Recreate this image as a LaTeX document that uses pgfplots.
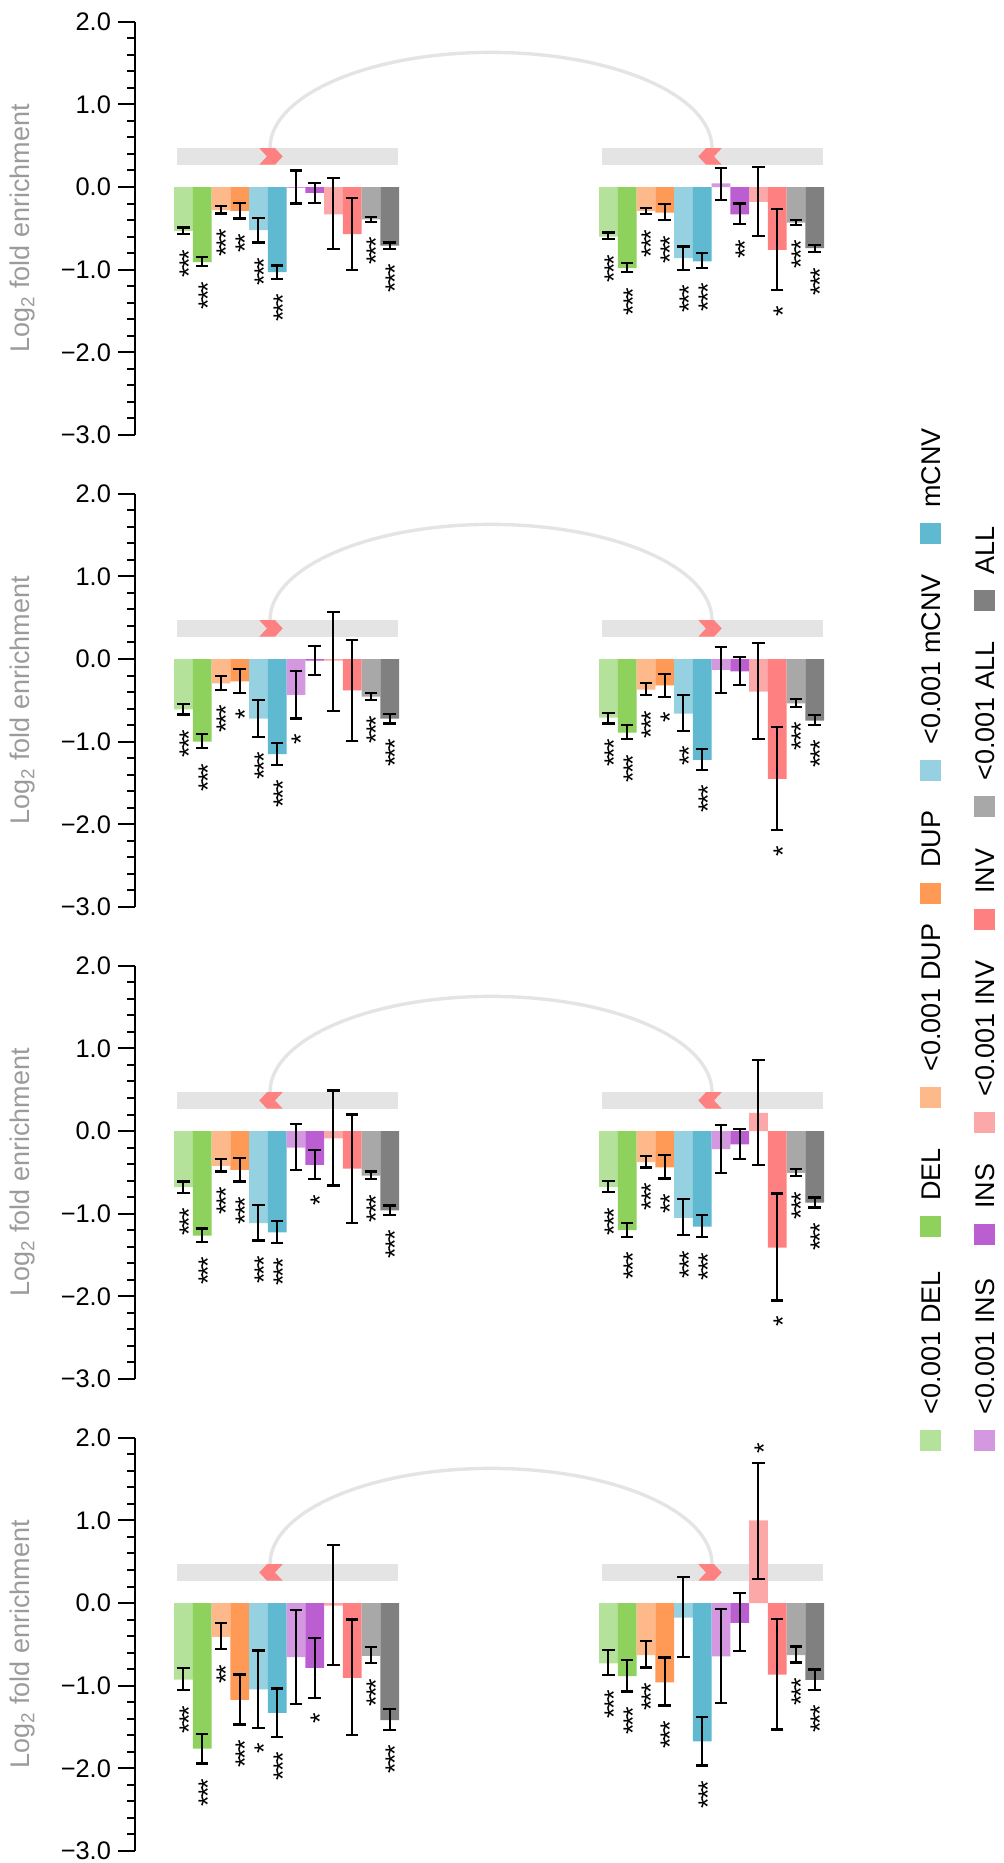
\documentclass[border=0pt]{standalone}
\usepackage{fontspec}
\setmainfont{Liberation Sans}
\newfontfamily\legfont{Liberation Sans}
\newfontfamily\starfam[LetterSpace=-7]{Liberation Sans}
\usepackage{pgfplots}
\usepackage{pgfplotstable}
\pgfplotsset{compat=1.18}

\definecolor{c0}{HTML}{B4E29A}
\definecolor{c1}{HTML}{8ED15C}
\definecolor{c2}{HTML}{FDB98A}
\definecolor{c3}{HTML}{FE9A55}
\definecolor{c4}{HTML}{96D1E1}
\definecolor{c5}{HTML}{5FB9D1}
\definecolor{c6}{HTML}{D498E0}
\definecolor{c7}{HTML}{BB5ED1}
\definecolor{c8}{HTML}{FDA8A8}
\definecolor{c9}{HTML}{FE8080}
\definecolor{c10}{HTML}{A8A8A8}
\definecolor{c11}{HTML}{808080}
\definecolor{bandc}{HTML}{E4E4E4}
\definecolor{arrowc}{HTML}{FE8080}
\definecolor{labc}{HTML}{9B9B9B}

% g: group (0 left, 1 right), c: series, y: bar, lo/hi: interval, s: stars
\pgfplotstableread{
g c y lo hi s
0 0 -0.53 -0.57 -0.49 ***
0 1 -0.91 -0.96 -0.85 ***
0 2 -0.28 -0.32 -0.23 ***
0 3 -0.29 -0.38 -0.19 **
0 4 -0.52 -0.67 -0.37 ***
0 5 -1.03 -1.11 -0.95 ***
0 6 -0.01 -0.20 0.20 {}
0 7 -0.07 -0.19 0.05 {}
0 8 -0.33 -0.75 0.11 {}
0 9 -0.57 -1.00 -0.13 {}
0 10 -0.39 -0.42 -0.36 ***
0 11 -0.71 -0.75 -0.67 ***
1 0 -0.60 -0.63 -0.55 ***
1 1 -0.98 -1.03 -0.92 ***
1 2 -0.29 -0.33 -0.25 ***
1 3 -0.31 -0.40 -0.21 ***
1 4 -0.86 -1.00 -0.72 ***
1 5 -0.90 -0.98 -0.80 ***
1 6 0.045 -0.16 0.23 {}
1 7 -0.33 -0.45 -0.20 **
1 8 -0.18 -0.59 0.24 {}
1 9 -0.76 -1.25 -0.27 *
1 10 -0.43 -0.46 -0.40 ***
1 11 -0.74 -0.79 -0.70 ***
}\tabA

\pgfplotstableread{
g c y lo hi s
0 0 -0.61 -0.67 -0.545 ***
0 1 -1.00 -1.08 -0.91 ***
0 2 -0.295 -0.37 -0.21 ***
0 3 -0.27 -0.415 -0.125 *
0 4 -0.72 -0.94 -0.50 ***
0 5 -1.15 -1.28 -1.02 ***
0 6 -0.435 -0.72 -0.14 *
0 7 -0.02 -0.19 0.16 {}
0 8 -0.02 -0.625 0.565 {}
0 9 -0.38 -0.99 0.23 {}
0 10 -0.455 -0.50 -0.41 ***
0 11 -0.72 -0.78 -0.665 ***
1 0 -0.71 -0.78 -0.65 ***
1 1 -0.89 -0.97 -0.80 ***
1 2 -0.37 -0.44 -0.29 ***
1 3 -0.32 -0.455 -0.18 *
1 4 -0.66 -0.87 -0.44 **
1 5 -1.22 -1.34 -1.09 ***
1 6 -0.13 -0.41 0.15 {}
1 7 -0.15 -0.31 0.025 {}
1 8 -0.395 -0.97 0.19 {}
1 9 -1.45 -2.07 -0.82 *
1 10 -0.535 -0.58 -0.48 ***
1 11 -0.745 -0.795 -0.68 ***
}\tabB

\pgfplotstableread{
g c y lo hi s
0 0 -0.68 -0.745 -0.61 ***
0 1 -1.265 -1.34 -1.18 ***
0 2 -0.42 -0.49 -0.34 ***
0 3 -0.47 -0.61 -0.33 ***
0 4 -1.115 -1.325 -0.89 ***
0 5 -1.225 -1.35 -1.09 ***
0 6 -0.20 -0.47 0.085 {}
0 7 -0.41 -0.585 -0.23 *
0 8 -0.09 -0.66 0.49 {}
0 9 -0.455 -1.11 0.20 {}
0 10 -0.54 -0.585 -0.49 ***
0 11 -0.96 -1.015 -0.90 ***
1 0 -0.675 -0.74 -0.60 ***
1 1 -1.20 -1.28 -1.11 ***
1 2 -0.375 -0.44 -0.30 ***
1 3 -0.44 -0.575 -0.29 **
1 4 -1.05 -1.26 -0.82 ***
1 5 -1.155 -1.285 -1.02 ***
1 6 -0.22 -0.51 0.07 {}
1 7 -0.16 -0.335 0.025 {}
1 8 0.22 -0.415 0.86 {}
1 9 -1.41 -2.05 -0.755 *
1 10 -0.505 -0.545 -0.455 ***
1 11 -0.865 -0.925 -0.805 ***
}\tabC

\pgfplotstableread{
g c y lo hi s
0 0 -0.925 -1.055 -0.785 ***
0 1 -1.76 -1.94 -1.58 ***
0 2 -0.41 -0.56 -0.245 **
0 3 -1.17 -1.47 -0.865 ***
0 4 -1.045 -1.51 -0.575 *
0 5 -1.33 -1.62 -1.035 ***
0 6 -0.655 -1.22 -0.08 {}
0 7 -0.785 -1.145 -0.42 *
0 8 -0.03 -0.75 0.70 {}
0 9 -0.905 -1.60 -0.20 {}
0 10 -0.64 -0.73 -0.53 ***
0 11 -1.415 -1.535 -1.285 ***
1 0 -0.73 -0.87 -0.57 ***
1 1 -0.885 -1.07 -0.69 ***
1 2 -0.63 -0.78 -0.46 ***
1 3 -0.96 -1.24 -0.66 ***
1 4 -0.175 -0.65 0.315 {}
1 5 -1.675 -1.965 -1.38 ***
1 6 -0.645 -1.21 -0.07 {}
1 7 -0.24 -0.585 0.12 {}
1 8 1.00 0.295 1.695 {}
1 9 -0.865 -1.53 -0.19 {}
1 10 -0.63 -0.72 -0.525 ***
1 11 -0.93 -1.05 -0.805 ***
}\tabD

\newcommand\starfont{\starfam\fontsize{13.5pt}{13.5pt}\selectfont}

\pgfplotsset{
  panel/.style={
    anchor=south west,
    x=0.5pt, y=41.33pt,
    xmin=135, xmax=840, ymin=-3, ymax=2,
    enlargelimits=false,
    axis x line=none, axis y line=left,
    axis line style={-, line width=1pt, black},
    ytick={-3,-2,-1,0,1,2},
    yticklabels={−3.0,−2.0,−1.0,0.0,1.0,2.0},
    minor y tick num=4,
    tick align=outside,
    major tick length=8.5pt, minor tick length=4pt,
    tick style={black, line width=1pt},
    yticklabel style={font=\fontsize{12.7pt}{12.7pt}\selectfont},
    clip=false,
  },
}

\newcommand{\chev}[2]{%
  \fill[arrowc] (axis cs:{#1-(#2)*11.7},0.47) -- (axis cs:{#1+(#2)*4},0.47)
    -- (axis cs:{#1+(#2)*11.7},0.37) -- (axis cs:{#1+(#2)*4},0.27)
    -- (axis cs:{#1-(#2)*11.7},0.27) -- (axis cs:{#1-(#2)*4},0.37) -- cycle;}

\newcommand{\panel}[5]{%
\begin{axis}[panel, at={(67.5pt,{-(217.5+236*#2)*1pt})}]
  \draw[bandc, line width=1.7pt] (axis cs:270,0.37) -- (axis cs:270,0.47)
    arc[start angle=180, end angle=0, x radius=110.5pt, y radius=47.9pt]
    -- (axis cs:712,0.37);
  \fill[bandc] (axis cs:177,0.27) rectangle (axis cs:398,0.47);
  \fill[bandc] (axis cs:602,0.27) rectangle (axis cs:823,0.47);
  \chev{271}{#3}
  \chev{710}{#4}
  \pgfplotsinvokeforeach{0,...,11}{
    \addplot[ybar, bar width=9.375pt, bar shift=0pt, fill=c##1, draw=none,
      restrict expr to domain={\thisrow{c}-##1}{-0.2:0.2},
      error bars/.cd, y dir=both, y explicit,
      error bar style={black, line width=1.1pt},
      error mark options={rotate=90, black, line width=1.1pt, mark size=3.1pt}]
      table[x expr={183.375+425*\thisrow{g}+18.75*\thisrow{c}}, y=y,
        y error plus expr={\thisrow{hi}-\thisrow{y}},
        y error minus expr={\thisrow{y}-\thisrow{lo}}] {#1};
  }
  \addplot[draw=none, mark=none, nodes near coords, point meta=explicit symbolic,
    nodes near coords style={font=\starfont, inner sep=0pt, xshift=2.9pt, yshift=-7.5pt, rotate=90, anchor=east}]
    table[x expr={183.375+425*\thisrow{g}+18.75*\thisrow{c}}, y=lo, meta=s] {#1};
  #5
  \node[rotate=90, text=labc, font=\fontsize{13.5pt}{13.5pt}\selectfont] at (axis cs:23,-0.5) {Log\textsubscript{2} fold enrichment};
\end{axis}}

% legend item: x (pt), swatch centre y (pt, downward), colour, text
\newcommand{\legitem}[4]{%
  \fill[#3] ({#1*1pt-5.25pt},{-#2*1pt-5.25pt}) rectangle ({#1*1pt+5.25pt},{-#2*1pt+5.25pt});
  \node[rotate=90, anchor=west, inner sep=0pt, font=\legfont\fontsize{13.5pt}{13.5pt}\selectfont]
    at ({#1*1pt+0.3pt},{-#2*1pt+12.5pt}) {#4};}

\begin{document}
\begin{tikzpicture}
\useasboundingbox (0,0) rectangle (501.5pt,-931.5pt);
\panel{\tabA}{0}{1}{-1}{}
\panel{\tabB}{1}{1}{1}{}
\panel{\tabC}{2}{-1}{-1}{}
\panel{\tabD}{3}{-1}{1}{%
  \addplot[draw=none, mark=none, nodes near coords={*},
    nodes near coords style={font=\starfont, inner sep=0pt, xshift=2.9pt, yshift=4.5pt, rotate=90, anchor=west}]
    coordinates {(758.375,1.695)};}
\legitem{465.25}{720}{c0}{<0.001 DEL}
\legitem{465.25}{613}{c1}{DEL}
\legitem{465.25}{548.5}{c2}{<0.001 DUP}
\legitem{465.25}{446.5}{c3}{DUP}
\legitem{465.25}{385}{c4}{<0.001 mCNV}
\legitem{465.25}{266.5}{c5}{mCNV}
\legitem{492.25}{720}{c6}{<0.001 INS}
\legitem{492.25}{617}{c7}{INS}
\legitem{492.25}{561}{c8}{<0.001 INV}
\legitem{492.25}{459.5}{c9}{INV}
\legitem{492.25}{403}{c10}{<0.001 ALL}
\legitem{492.25}{300}{c11}{ALL}
\end{tikzpicture}
\end{document}
